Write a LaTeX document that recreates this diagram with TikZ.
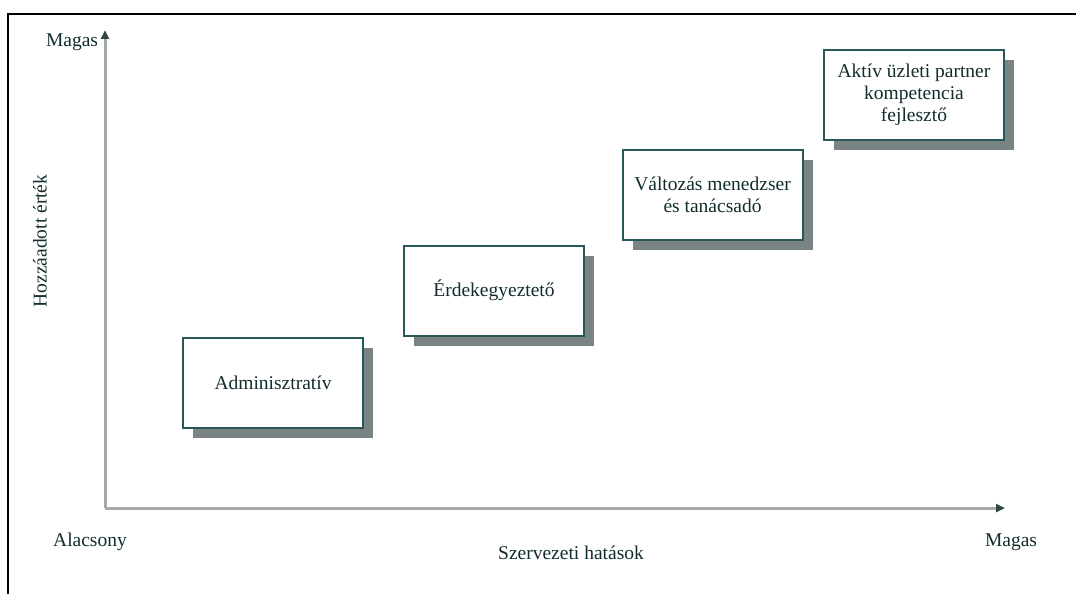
\documentclass[tikz,border=0pt]{standalone}
\usepackage{fontspec}
\setmainfont{Liberation Serif}
\usetikzlibrary{arrows.meta,shadows}
\definecolor{txtcol}{RGB}{18,45,45}
\definecolor{boxcol}{RGB}{40,88,88}
\definecolor{shadcol}{RGB}{122,132,132}
\definecolor{axiscol}{RGB}{165,168,168}
\definecolor{tipcol}{RGB}{50,70,70}
\tikzset{
  rolebox/.style={draw=boxcol, line width=2pt, fill=white,
    minimum width=180pt, minimum height=90pt, inner sep=0pt,
    align=center, text=txtcol, font=\fontsize{19.5}{22}\selectfont,
    drop shadow={shadow xshift=10pt, shadow yshift=-10pt, fill=shadcol, opacity=1}},
  lbl/.style={text=txtcol, font=\fontsize{19.5}{22}\selectfont, inner sep=0pt},
  axis/.style={draw=axiscol, line width=3pt, -{Triangle[length=9pt,width=8pt,color=tipcol]}},
  frame/.style={draw=black, line width=2pt}
}
\begin{document}
\begin{tikzpicture}[x=1pt,y=-1pt]
\useasboundingbox (0,0) rectangle (1076,594);
\fill[white] (0,0) rectangle (1076,594);
% frame (top and left edges)
\coordinate (fbl) at (8,594);
\coordinate (ftl) at (8,14);
\coordinate (ftr) at (1076,14);
\draw[frame] (fbl) -- (ftl) -- (ftr);
% axes
\coordinate (O) at (105,508);
\coordinate (ytop) at (105,30);
\coordinate (xend) at (1005,508);
\draw[axis] (O) -- (ytop);
\draw[axis] (O) -- (xend);
% boxes
\node[rolebox] (b1) at (273,382.5) {Adminisztratív};
\node[rolebox] (b2) at (494,290.5) {Érdekegyeztető};
\node[rolebox] (b3) at (712.5,195) {Változás menedzser\\és tanácsadó};
\node[rolebox] (b4) at (914,95) {Aktív üzleti partner\\kompetencia\\fejlesztő};
% labels
\node[lbl] (ymax) at (72,42) {Magas};
\node[lbl, rotate=90] (ylab) at (40,241) {Hozzáadott érték};
\node[lbl] (xmin) at (90,542) {Alacsony};
\node[lbl] (xlab) at (571,553) {Szervezeti hatások};
\node[lbl] (xmax) at (1011,542) {Magas};
\end{tikzpicture}
\end{document}
